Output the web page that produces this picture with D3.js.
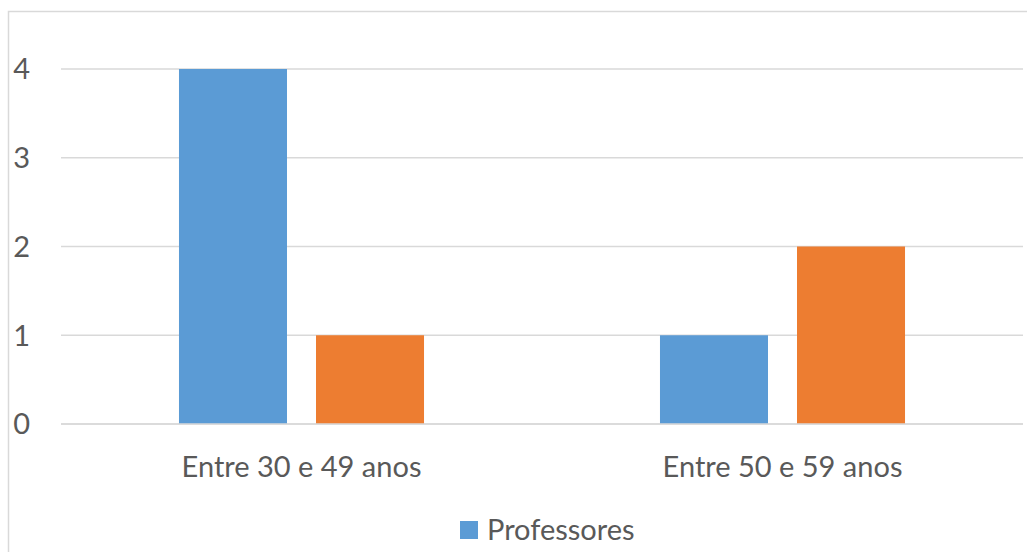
<!DOCTYPE html>
<html>
<head>
<meta charset="utf-8">
<script src="https://cdn.jsdelivr.net/npm/d3@7"></script>
<style>
  html, body { margin: 0; padding: 0; background: #fff; }
  svg { display: block; }
  text { font-family: Lato, "Open Sans", sans-serif; fill: #595959; }
</style>
</head>
<body>
<svg id="chart" width="1027" height="552"></svg>
<script>
// Age groups along the x axis
const categories = ["Entre 30 e 49 anos", "Entre 50 e 59 anos"];
// Counts per age group
const professores = [4, 1];
const segundaSerie = [1, 2];
// Y axis ticks
const yTicks = [0, 1, 2, 3, 4];
const legendLabels = ["Professores"];

const colors = ["#5B9BD5", "#ED7D31"];
const seriesValues = [professores, segundaSerie];

const W = 1027, H = 552;
const svg = d3.select("#chart");

// Chart frame (top and left edges visible)
svg.append("path")
  .attr("d", `M8.5,${H} V11.5 H${W}`)
  .attr("fill", "none")
  .attr("stroke", "#D9D9D9")
  .attr("stroke-width", 1.5);

const plot = { left: 61, right: 1023, top: 69, bottom: 424 };

const x0 = d3.scaleBand()
  .domain(categories)
  .range([plot.left, plot.right])
  .paddingInner(0)
  .paddingOuter(0);

const x1 = d3.scaleBand()
  .domain(d3.range(seriesValues.length))
  .range([0, x0.bandwidth()])
  .paddingInner(0.2117)
  .paddingOuter(0.861);

const y = d3.scaleLinear()
  .domain([0, 4])
  .range([plot.bottom, plot.top]);

// Gridlines
svg.append("g")
  .selectAll("line")
  .data(yTicks)
  .join("line")
  .attr("x1", plot.left)
  .attr("x2", plot.right)
  .attr("y1", d => y(d))
  .attr("y2", d => y(d))
  .attr("stroke", "#D9D9D9")
  .attr("stroke-width", 1.5);

// Y tick labels
svg.append("g")
  .selectAll("text")
  .data(yTicks)
  .join("text")
  .attr("x", 30)
  .attr("y", d => y(d))
  .attr("dy", "0.36em")
  .attr("text-anchor", "end")
  .attr("font-size", 29)
  .text(d => d);

// Bars
const groups = svg.append("g")
  .selectAll("g")
  .data(categories)
  .join("g")
  .attr("transform", d => `translate(${x0(d)},0)`);

groups.selectAll("rect")
  .data((c, i) => seriesValues.map((s, k) => ({ k, v: s[i] })))
  .join("rect")
  .attr("x", d => x1(d.k))
  .attr("width", x1.bandwidth())
  .attr("y", d => y(d.v))
  .attr("height", d => y(0) - y(d.v))
  .attr("fill", d => colors[d.k]);

// Redraw baseline over bars
svg.append("line")
  .attr("x1", plot.left).attr("x2", plot.right)
  .attr("y1", y(0)).attr("y2", y(0))
  .attr("stroke", "#D9D9D9").attr("stroke-width", 1.5);

// Category labels
svg.append("g")
  .selectAll("text")
  .data(categories)
  .join("text")
  .attr("x", d => x0(d) + x0.bandwidth() / 2)
  .attr("y", 477)
  .attr("text-anchor", "middle")
  .attr("font-size", 29)
  .text(d => d);

// Legend
const legend = svg.append("g").attr("transform", "translate(460,521)");
legend.selectAll("rect")
  .data(legendLabels)
  .join("rect")
  .attr("x", 0).attr("y", 0)
  .attr("width", 18).attr("height", 18)
  .attr("fill", (d, i) => colors[i]);
legend.selectAll("text")
  .data(legendLabels)
  .join("text")
  .attr("x", 27)
  .attr("y", 19)
  .attr("font-size", 29)
  .text(d => d);
</script>
</body>
</html>
